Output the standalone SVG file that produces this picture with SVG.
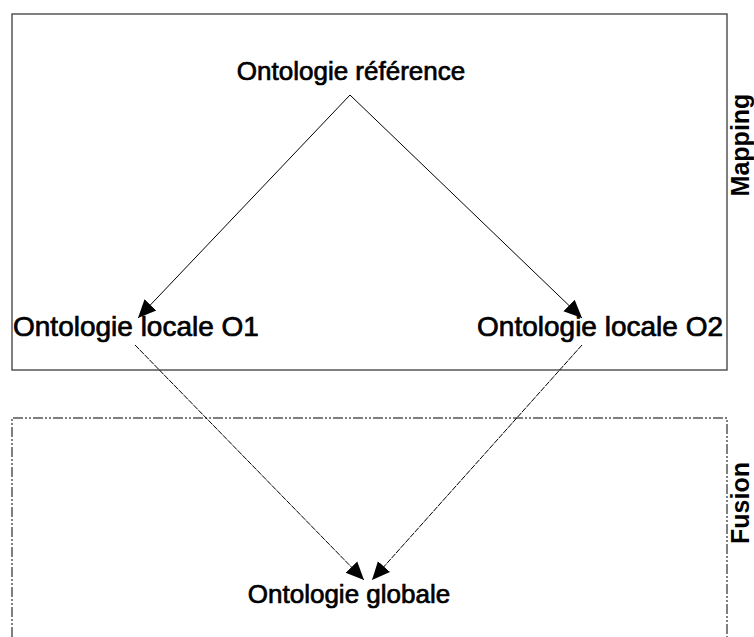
<svg xmlns="http://www.w3.org/2000/svg" width="754" height="637" viewBox="0 0 754 637">
<defs>
<style>
.lbl{font-family:"Liberation Sans",Arial,sans-serif;font-size:26px;fill:#000;stroke:#000;stroke-width:0.7}
.big{font-size:28px}
.side{font-family:"Liberation Sans",Arial,sans-serif;font-size:25px;font-weight:bold;fill:#000}
.edge{stroke:#000;stroke-width:1;fill:none}
</style>
<marker id="ah" viewBox="0 0 10 10" refX="10" refY="5" markerWidth="18" markerHeight="18" markerUnits="userSpaceOnUse" orient="auto">
<path d="M0,0.5 L10,5 L0,9.5 z" fill="#000"/>
</marker>
</defs>
<rect width="754" height="637" fill="#fff"/>
<g id="mapping">
<rect x="12" y="14" width="715" height="356" fill="none" stroke="#555" stroke-width="1.5"/>
<text class="side" transform="translate(749,145) rotate(-90)" text-anchor="middle">Mapping</text>
</g>
<g id="fusion">
<path d="M12,637 L12,418 L727,418 L727,637" fill="none" stroke="#555" stroke-width="1.5" stroke-dasharray="10,2,2,2,2,2"/>
<text class="side" transform="translate(749,503) rotate(-90)" text-anchor="middle">Fusion</text>
</g>
<g id="ref"><text class="lbl" x="351" y="80" text-anchor="middle">Ontologie référence</text></g>
<g id="o1"><text class="lbl big" x="13" y="336">Ontologie locale O1</text></g>
<g id="o2"><text class="lbl big" x="723" y="336" text-anchor="end">Ontologie locale O2</text></g>
<g id="global"><text class="lbl" x="349" y="603" text-anchor="middle">Ontologie globale</text></g>
<g id="connectors">
<line class="edge" x1="350" y1="95" x2="138" y2="318" marker-end="url(#ah)"/>
<line class="edge" x1="350" y1="95" x2="582" y2="318" marker-end="url(#ah)"/>
<line class="edge" x1="135" y1="345" x2="364" y2="580" marker-end="url(#ah)" stroke-dasharray="6,1"/>
<line class="edge" x1="582" y1="345" x2="372" y2="580" marker-end="url(#ah)" stroke-dasharray="6,1"/>
</g>
</svg>
